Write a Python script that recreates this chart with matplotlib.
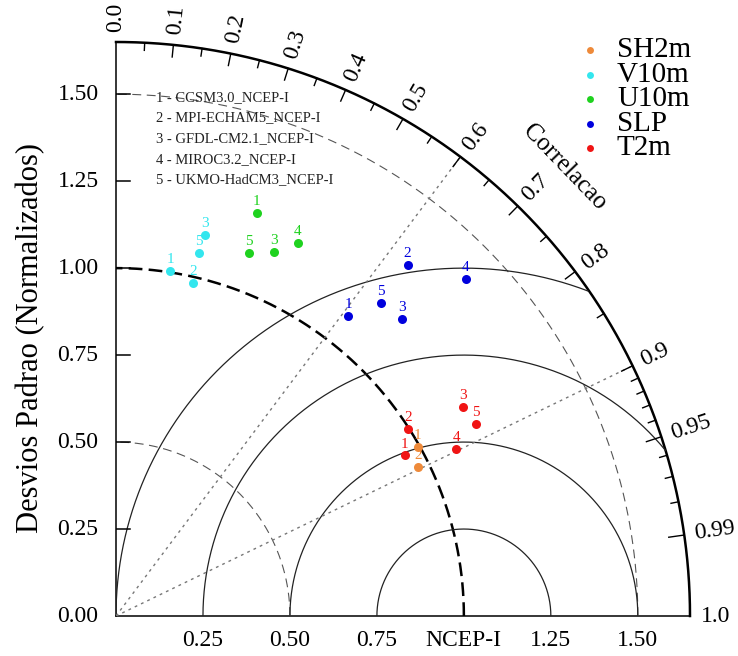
import numpy as np
import matplotlib
matplotlib.use("Agg")
import matplotlib.pyplot as plt

plt.rcParams['font.family'] = ['Liberation Serif', 'DejaVu Serif']

# Taylor statistics (normalized std, correlation)
var_names = ['SH2m', 'V10m', 'U10m', 'SLP', 'T2m']
var_colors = ['#ee8a3a', '#33e6ee', '#1fd21f', '#0000dd', '#f01414']

sh2m_std = [0.995, 0.968]
sh2m_cor = [0.872, 0.897]
sh2m_lbl = ['1', '2']

v10m_std = [1.003, 0.982, 1.124, 1.070]
v10m_cor = [0.155, 0.225, 0.228, 0.223]
v10m_lbl = ['1', '2', '3', '5']

u10m_std = [1.227, 1.140, 1.193, 1.111]
u10m_cor = [0.330, 0.398, 0.438, 0.344]
u10m_lbl = ['1', '3', '4', '5']

slp_std = [1.090, 1.312, 1.185, 1.396, 1.178]
slp_cor = [0.612, 0.639, 0.694, 0.720, 0.646]
slp_lbl = ['1', '2', '3', '4', '5']

t2m_std = [0.950, 0.996, 1.164, 1.089, 1.172]
t2m_cor = [0.874, 0.842, 0.856, 0.898, 0.882]
t2m_lbl = ['1', '2', '3', '4', '5']

model_names = ['1 - CCSM3.0_NCEP-I', '2 - MPI-ECHAM5_NCEP-I', '3 - GFDL-CM2.1_NCEP-I',
               '4 - MIROC3.2_NCEP-I', '5 - UKMO-HadCM3_NCEP-I']

std_ticks = [0.25, 0.50, 0.75, 1.00, 1.25, 1.50]
x_tick_labels = ['0.25', '0.50', '0.75', 'NCEP-I', '1.25', '1.50']
cor_labels = [0.0, 0.1, 0.2, 0.3, 0.4, 0.5, 0.6, 0.7, 0.8, 0.9, 0.95, 0.99, 1.0]
cor_minor = [0.05, 0.15, 0.25, 0.35, 0.45, 0.55, 0.65, 0.75, 0.85,
             0.91, 0.92, 0.93, 0.94, 0.96, 0.97, 0.98]
rms_radii = [0.25, 0.5, 0.75, 1.0]
rays = [0.6, 0.9]

rmax = 1.65

fig = plt.figure(figsize=(7.38, 6.56), dpi=100)
ax = fig.add_axes([116 / 738, 40 / 656, 574 / 738, 574 / 656])
ax.set_xlim(0, rmax)
ax.set_ylim(0, rmax)
ax.axis('off')

# frame: axes lines and outer correlation arc
th = np.linspace(0, np.pi / 2, 400)
ax.plot([0, rmax], [0, 0], color='k', lw=1.1, clip_on=False)
ax.plot([0, 0], [0, rmax], color='k', lw=1.1, clip_on=False)
ax.plot(rmax * np.cos(th), rmax * np.sin(th), color='k', lw=1.8, clip_on=False)

# std arcs centered at origin
for r in [0.5, 1.5]:
    ax.plot(r * np.cos(th), r * np.sin(th), color='#555555', lw=0.8, dashes=(8, 5))
ax.plot(np.cos(th), np.sin(th), color='k', lw=1.8, dashes=(5.5, 2.5))

# centered RMS arcs around the reference point
phi = np.linspace(0, np.pi, 600)
for r in rms_radii:
    xs = 1 + r * np.cos(phi)
    ys = r * np.sin(phi)
    inside = (xs ** 2 + ys ** 2 <= rmax ** 2) & (xs >= 0)
    xs = np.where(inside, xs, np.nan)
    ys = np.where(inside, ys, np.nan)
    ax.plot(xs, ys, color='#222222', lw=0.9)

# correlation rays
for c in rays:
    ax.plot([0, rmax * c], [0, rmax * np.sqrt(1 - c ** 2)], color='#777777', lw=1.0,
            dashes=(2, 3))

# ticks on the correlation arc
for c in cor_labels[1:-1]:
    a = np.arccos(c)
    ln = 0.045 if c in (0.95, 0.99) else 0.035
    ax.plot([(rmax - ln) * np.cos(a), rmax * np.cos(a)],
            [(rmax - ln) * np.sin(a), rmax * np.sin(a)], color='k', lw=1.0)
for c in cor_minor:
    a = np.arccos(c)
    ax.plot([(rmax - 0.022) * np.cos(a), rmax * np.cos(a)],
            [(rmax - 0.022) * np.sin(a), rmax * np.sin(a)], color='k', lw=1.0)
for c in cor_labels:
    a = np.arccos(c)
    txt = '%.1f' % c if c not in (0.95, 0.99) else '%.2f' % c
    ax.text(1.68 * np.cos(a), 1.68 * np.sin(a), txt, rotation=np.degrees(a),
            rotation_mode='anchor', ha='left', va='center', fontsize=17, clip_on=False)
ax.text(1.29, 1.29, 'Correlacao', rotation=-46, ha='center', va='center', fontsize=18)

# std axis ticks and labels
for v in std_ticks:
    ax.plot([0, 0.04], [v, v], color='k', lw=1.1)
    ax.text(-0.05, v, '%.2f' % v, ha='right', va='center', fontsize=17, clip_on=False)
ax.text(-0.05, 0, '0.00', ha='right', va='center', fontsize=17, clip_on=False)
for v, lab in zip(std_ticks, x_tick_labels):
    ax.text(v, -0.07, lab, ha='center', va='center', fontsize=17, clip_on=False)
ax.text(-0.245, 0.8, 'Desvios Padrao (Normalizados)', rotation=90, ha='center',
        va='center', fontsize=22, clip_on=False)

# model list
for i, name in enumerate(model_names):
    ax.text(0.115, 1.491 - i * 0.0595, name, ha='left', va='center', fontsize=10.5,
            color='#222222')

# points
groups = [(sh2m_std, sh2m_cor, sh2m_lbl), (v10m_std, v10m_cor, v10m_lbl),
          (u10m_std, u10m_cor, u10m_lbl), (slp_std, slp_cor, slp_lbl),
          (t2m_std, t2m_cor, t2m_lbl)]
for (s, c, lbl), col in zip(groups, var_colors):
    s = np.array(s)
    c = np.array(c)
    xs = s * c
    ys = s * np.sqrt(1 - c ** 2)
    ax.plot(xs, ys, 'o', color=col, ms=6.5, mec='none', zorder=5)
    for x, y, t in zip(xs, ys, lbl):
        ax.annotate(t, (x, y), xytext=(0, 3.5), textcoords='offset points', ha='center',
                    va='bottom', fontsize=11, color=col, zorder=6)

# legend
for i, (name, col) in enumerate(zip(var_names, var_colors)):
    yy = 1.626 - i * 0.0705
    ax.plot(1.362, yy, 'o', color=col, ms=5, mec='none', clip_on=False)
    ax.text(1.44, yy, name, ha='left', va='center', fontsize=21, clip_on=False)

fig.savefig('out.png', dpi=100)
